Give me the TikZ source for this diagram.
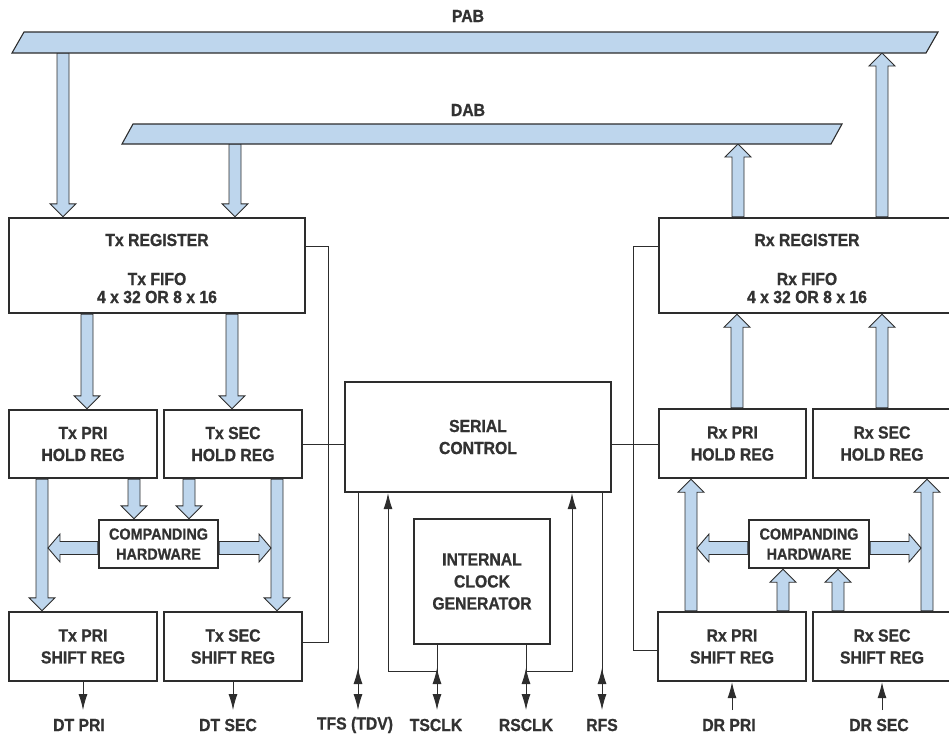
\documentclass[tikz,border=0pt]{standalone}
\usepackage{fontspec}
\setmainfont{Liberation Sans}[FakeStretch=0.9, BoldFeatures={FakeBold=0.8}]
\usetikzlibrary{arrows.meta,calc,backgrounds}
\definecolor{busblue}{RGB}{190,214,237}
\definecolor{ink}{RGB}{45,45,45}
\definecolor{txt}{RGB}{50,50,50}
\tikzset{
  dbox/.style={draw=ink, line width=2.4pt, fill=white, inner sep=0pt, align=center,
               font=\bfseries\fontsize{17.5}{22}\selectfont, text=txt},
  dcomp/.style={dbox, font=\bfseries\fontsize{16}{20}\selectfont},
  dtxt/.style={align=center, inner sep=0pt, font=\bfseries\fontsize{17.5}{18}\selectfont, text=txt},
  dwire/.style={draw=ink, line width=0.9pt},
  dfat/.style={fill=busblue, draw=ink, line width=0.9pt, line join=miter},
  dbus/.style={fill=busblue, draw=ink, line width=1.1pt},
  dlbl/.style={font=\bfseries\fontsize{17.5}{18}\selectfont, text=txt},
  darr/.style={-{Latex[length=16pt,width=9pt]}},
}
% vertical fat arrow from #1 to #2 (tip at #2)
\newcommand\fatv[2]{%
  \path[dfat] let \p1=#1, \p2=#2, \n1={ifthenelse(\y2>\y1,1,-1)} in
    (\x1-6pt,\y1) -- (\x1-6pt,\y2-\n1*13pt) -- (\x1-13pt,\y2-\n1*13pt) -- (\x1,\y2)
    -- (\x1+13pt,\y2-\n1*13pt) -- (\x1+6pt,\y2-\n1*13pt) -- (\x1+6pt,\y1) -- cycle;}
% horizontal fat arrow from #1 to #2 (tip at #2)
\newcommand\fath[2]{%
  \path[dfat] let \p1=#1, \p2=#2, \n1={ifthenelse(\x2>\x1,1,-1)} in
    (\x1,\y1-6.5pt) -- (\x2-\n1*12pt,\y1-6.5pt) -- (\x2-\n1*12pt,\y1-14pt) -- (\x2,\y1)
    -- (\x2-\n1*12pt,\y1+14pt) -- (\x2-\n1*12pt,\y1+6.5pt) -- (\x1,\y1+6.5pt) -- cycle;}
% upward arrow head on a bidirectional pin line
\newcommand\uphead[1]{%
  \draw[dwire, darr] ($#1+(0,-22)$) -- ($#1+(0,-42)$);}
\begin{document}
\begin{tikzpicture}[x=1pt,y=-1pt]
\useasboundingbox (0,0) rectangle (949,739);
\clip (0,0) rectangle (949,739);

% ---------- buses ----------
\path[dbus] (12,53) -- (24,32) -- (938,32) -- (926,53) -- cycle;
\path[dbus] (122,144) -- (133,124) -- (842,124) -- (831,144) -- cycle;
\node[dlbl] (pab) at (468,16) {PAB};
\node[dlbl] (dab) at (468,110) {DAB};
\coordinate (pabb) at (0,53);
\coordinate (dabb) at (0,144);

% ---------- boxes ----------
\node[dbox, minimum width=296pt, minimum height=95pt] (txreg) at (157,265.5) {};
\node[dtxt] (txregt) at (157,240) {Tx REGISTER};
\node[dtxt] (txfifo) at (157,288) {Tx FIFO\\4 x 32 OR 8 x 16};
\node[dbox, minimum width=296pt, minimum height=95pt] (rxreg) at (807,265.5) {};
\node[dtxt] (rxregt) at (807,240) {Rx REGISTER};
\node[dtxt] (rxfifo) at (807,288) {Rx FIFO\\4 x 32 OR 8 x 16};
\node[dbox, minimum width=148pt, minimum height=68pt] (txprih) at (83,444) {Tx PRI\\HOLD REG};
\node[dbox, minimum width=138pt, minimum height=68pt] (txsech) at (233,444) {Tx SEC\\HOLD REG};
\node[dbox, minimum width=148pt, minimum height=69pt] (txpris) at (83,646.5) {Tx PRI\\SHIFT REG};
\node[dbox, minimum width=138pt, minimum height=69pt] (txsecs) at (233,646.5) {Tx SEC\\SHIFT REG};
\node[dbox, minimum width=266pt, minimum height=110pt] (serial) at (478,437) {SERIAL\\CONTROL};
\node[dbox, minimum width=136pt, minimum height=125pt] (clock) at (482,581.5) {INTERNAL\\CLOCK\\GENERATOR};
\node[dbox, minimum width=147pt, minimum height=69pt] (rxprih) at (732.5,443.5) {Rx PRI\\HOLD REG};
\node[dbox, minimum width=138pt, minimum height=69pt] (rxsech) at (882,443.5) {Rx SEC\\HOLD REG};
\node[dbox, minimum width=148pt, minimum height=69pt] (rxpris) at (732,646.5) {Rx PRI\\SHIFT REG};
\node[dbox, minimum width=138pt, minimum height=69pt] (rxsecs) at (882,646.5) {Rx SEC\\SHIFT REG};
\node[dcomp, minimum width=119pt, minimum height=48pt] (txcomp) at (158.5,544) {COMPANDING\\HARDWARE};
\node[dcomp, minimum width=120pt, minimum height=48pt] (rxcomp) at (809,544) {COMPANDING\\HARDWARE};

% ---------- reference coordinates ----------
\coordinate (xa) at (63,0);
\coordinate (xb) at (235,0);
\coordinate (xc) at (87,0);
\coordinate (xd) at (232,0);
\coordinate (xe) at (134,0);
\coordinate (xf) at (189,0);
\coordinate (xg) at (42,0);
\coordinate (xh) at (277,0);
\coordinate (xi) at (737,0);
\coordinate (xj) at (882,0);
\coordinate (xk) at (738,0);
\coordinate (xl) at (691,0);
\coordinate (xm) at (927,0);
\coordinate (xn) at (783,0);
\coordinate (xo) at (838,0);
\coordinate (ym) at (0,548);
\coordinate (tl) at (48,548);
\coordinate (tr) at (271,548);
\coordinate (rl) at (697,548);
\coordinate (rr) at (921,548);

% ---------- fat data arrows ----------
\begin{pgfonlayer}{background}
\fatv{(pabb -| xa)}{(txreg.north -| xa)}
\fatv{(dabb -| xb)}{(txreg.north -| xb)}
\fatv{(txreg.south -| xc)}{(txprih.north -| xc)}
\fatv{(txreg.south -| xd)}{(txsech.north -| xd)}
\fatv{(txprih.south -| xe)}{(txcomp.north -| xe)}
\fatv{(txsech.south -| xf)}{(txcomp.north -| xf)}
\fatv{(txprih.south -| xg)}{(txpris.north -| xg)}
\fatv{(txsech.south -| xh)}{(txsecs.north -| xh)}
\fath{(txcomp.west |- ym)}{(tl)}
\fath{(txcomp.east |- ym)}{(tr)}
\fatv{(rxprih.north -| xi)}{(rxreg.south -| xi)}
\fatv{(rxsech.north -| xj)}{(rxreg.south -| xj)}
\fatv{(rxreg.north -| xk)}{(dabb -| xk)}
\fatv{(rxreg.north -| xj)}{(pabb -| xj)}
\fatv{(rxpris.north -| xl)}{(rxprih.south -| xl)}
\fatv{(rxsecs.north -| xm)}{(rxsech.south -| xm)}
\fatv{(rxpris.north -| xn)}{(rxcomp.south -| xn)}
\fatv{(rxsecs.north -| xo)}{(rxcomp.south -| xo)}
\fath{(rxcomp.west |- ym)}{(rl)}
\fath{(rxcomp.east |- ym)}{(rr)}
\end{pgfonlayer}

% ---------- control wires ----------
\coordinate (yr) at (0,246);
\coordinate (ys) at (0,642);
\coordinate (yt) at (0,650);
\coordinate (yh) at (0,444);
\coordinate (xw) at (328,0);
\coordinate (xv) at (633,0);
\draw[dwire] (txreg.east |- yr) -| (xw |- ys) -- (txsecs.east |- ys);
\draw[dwire] (rxreg.west |- yr) -| (xv |- yt) -- (rxpris.west |- yt);
\draw[dwire] (serial.west |- yh) -- (txsech.east |- yh);
\draw[dwire] (serial.east |- yh) -- (rxprih.west |- yh);

% ---------- pins ----------
\coordinate (yb) at (0,710);
\coordinate (yk) at (0,671);
\coordinate (xtfs) at (358,0);
\coordinate (xts) at (437,0);
\coordinate (xtu) at (388,0);
\coordinate (xrs) at (526,0);
\coordinate (xru) at (572,0);
\coordinate (xrf) at (602,0);
\draw[dwire, darr] (serial.south -| xtfs) -- (yb -| xtfs);
\uphead{(yb -| xtfs)}
\draw[dwire, darr] (clock.south -| xts) -- (yb -| xts);
\uphead{(yb -| xts)}
\draw[dwire, darr] (yk -| xts) -| (serial.south -| xtu);
\draw[dwire, darr] (clock.south -| xrs) -- (yb -| xrs);
\uphead{(yb -| xrs)}
\draw[dwire, darr] (yk -| xrs) -| (serial.south -| xru);
\draw[dwire, darr] (serial.south -| xrf) -- (yb -| xrf);
\uphead{(yb -| xrf)}

\draw[dwire, darr] (txpris.south) -- (yb -| txpris.south);
\draw[dwire, darr] (txsecs.south) -- (yb -| txsecs.south);
\draw[dwire, darr] (yb -| rxpris.south) -- (rxpris.south);
\draw[dwire, darr] (yb -| rxsecs.south) -- (rxsecs.south);

% ---------- pin labels ----------
\node[dlbl] (ldtp) at (79,725) {DT PRI};
\node[dlbl] (ldts) at (228,725) {DT SEC};
\node[dlbl] (ltfs) at (355,725) {TFS (TDV)};
\node[dlbl] (ltsc) at (436,725) {TSCLK};
\node[dlbl] (lrsc) at (526,725) {RSCLK};
\node[dlbl] (lrfs) at (602,725) {RFS};
\node[dlbl] (ldrp) at (729,725) {DR PRI};
\node[dlbl] (ldrs) at (879,725) {DR SEC};
\end{tikzpicture}
\end{document}
